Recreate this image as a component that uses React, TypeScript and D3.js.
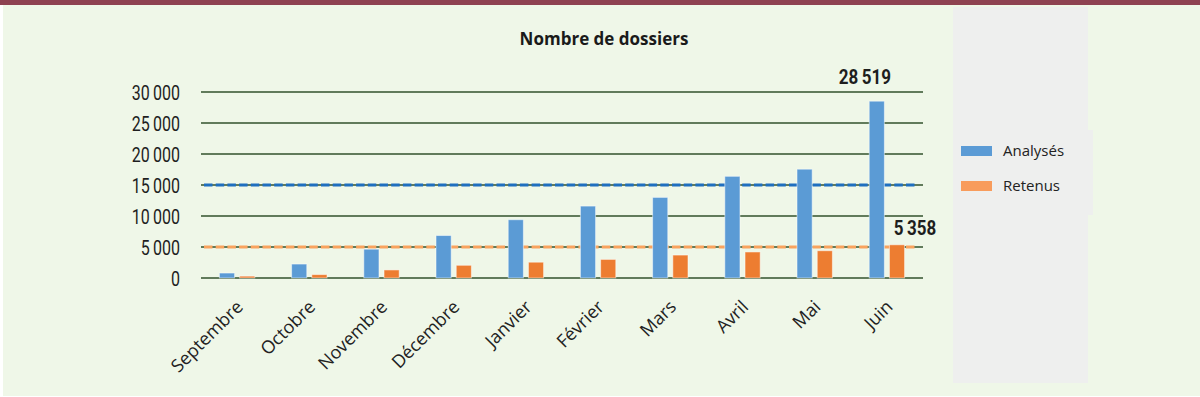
import * as d3 from "d3";

const months = ["Septembre", "Octobre", "Novembre", "Décembre", "Janvier", "Février", "Mars", "Avril", "Mai", "Juin"];
const analyses = [800, 2250, 4650, 6850, 9400, 11600, 13000, 16400, 17550, 28519];
const retenus = [300, 550, 1300, 2050, 2550, 3000, 3700, 4200, 4400, 5358];
const seriesNames = ["Analysés", "Retenus"];
const yTicks = [0, 5000, 10000, 15000, 20000, 25000, 30000];
// lignes de référence pointillées
const refLines = [15000, 5000];

const width = 1200;
const height = 397;
const margin = { top: 92, right: 277, bottom: 119, left: 201 };
const boundsWidth = width - margin.left - margin.right;
const boundsHeight = height - margin.top - margin.bottom;

const barColors = ["#5b9bd5", "#ed7d31"];
const legendColors = ["#5b9bd5", "#f89c5c"];
const refColors = ["#1f6fbf", "#f9a35e"];
const gridColor = "#617b5b";
const humanist = "'Open Sans', Lato, sans-serif";

const fr = d3.formatLocale({ decimal: ",", thousands: "\u2009", grouping: [3], currency: ["", " €"] });
const fmt = fr.format(",d");

// texte "condensé" : pas de police étroite installée, on écrase en largeur
function Narrow({ x, y, sx, anchor, size, weight, children }: any) {
  return (
    <g transform={`translate(${x},${y}) scale(${sx},1)`}>
      <text textAnchor={anchor} dy="0.35em" fontSize={size} fontWeight={weight} fill="#1e1e1e" fontFamily="Roboto, sans-serif">
        {children}
      </text>
    </g>
  );
}

export default function App() {
  const x0 = d3.scaleBand<string>().domain(months).range([0, boundsWidth]).padding(0);
  const groupWidth = x0.bandwidth() * 0.49;
  const x1 = d3.scaleBand<string>().domain(seriesNames).range([0, groupWidth]).paddingInner(0.25);
  const y = d3.scaleLinear().domain([0, 30000]).range([boundsHeight, 0]);
  const groupStart = (m: string) => (x0(m) ?? 0) + (x0.bandwidth() - groupWidth) / 2;

  const values = [analyses, retenus];
  const last = months[months.length - 1];

  return (
    <>
      <style>{`body{margin:0}`}</style>
      <svg width={width} height={height} style={{ display: "block", background: "#ffffff" }}>
        <rect x={3} y={0} width={width - 3} height={396} fill="#eff7e8" />
        <rect x={0} y={0} width={width} height={5} fill="#8e4251" />
        <rect x={953} y={7} width={135} height={376} fill="#eeefee" />
        <rect x={953} y={130} width={140} height={85} fill="#eeefee" />

        <text x={604} y={45} textAnchor="middle" fontSize={17} fontWeight={700} fill="#1a1a1a" fontFamily={humanist}>
          Nombre de dossiers
        </text>

        <g transform={`translate(${margin.left},${margin.top})`}>
          {yTicks.map((t) => (
            <g key={t} transform={`translate(0,${y(t)})`}>
              <line x1={0} x2={boundsWidth} stroke={gridColor} strokeWidth={2} />
              <Narrow x={-21} y={1} sx={0.8} anchor="end" size={20} weight={400}>
                {fmt(t)}
              </Narrow>
            </g>
          ))}

          {refLines.map((v, i) => (
            <line
              key={v}
              x1={3}
              x2={boundsWidth - 6}
              y1={y(v)}
              y2={y(v)}
              stroke={refColors[i]}
              strokeWidth={3}
              strokeDasharray="8.5 3.2"
            />
          ))}

          {months.map((m, i) => (
            <g key={m} transform={`translate(${groupStart(m)},0)`}>
              {seriesNames.map((s, k) => (
                <rect
                  key={s}
                  x={x1(s)}
                  y={y(values[k][i])}
                  width={x1.bandwidth()}
                  height={boundsHeight - y(values[k][i])}
                  fill={barColors[k]}
                  stroke="#ffffff"
                  strokeOpacity={0.5}
                  strokeWidth={1}
                />
              ))}
            </g>
          ))}

          <Narrow
            x={groupStart(last) + (x1("Analysés") ?? 0) + x1.bandwidth() / 2 - 12}
            y={y(analyses[analyses.length - 1]) - 24}
            sx={0.85}
            anchor="middle"
            size={20}
            weight={700}
          >
            {fmt(analyses[analyses.length - 1])}
          </Narrow>
          <Narrow
            x={groupStart(last) + (x1("Retenus") ?? 0) + x1.bandwidth() / 2 + 18}
            y={y(retenus[retenus.length - 1]) - 17}
            sx={0.85}
            anchor="middle"
            size={20}
            weight={700}
          >
            {fmt(retenus[retenus.length - 1])}
          </Narrow>

          {months.map((m) => {
            const cx = (x0(m) ?? 0) + x0.bandwidth() / 2 + 7;
            const cy = boundsHeight + 30;
            return (
              <text
                key={m}
                x={cx}
                y={cy}
                textAnchor="end"
                fontSize={18}
                fill="#222"
                fontFamily={humanist}
                transform={`rotate(-45,${cx},${cy})`}
              >
                {m}
              </text>
            );
          })}
        </g>

        {seriesNames.map((s, i) => (
          <g key={s} transform={`translate(961,${146 + i * 35})`}>
            <rect width={31} height={10} fill={legendColors[i]} />
            <text x={42} y={5} dy="0.35em" fontSize={15} fill="#222" fontFamily={humanist}>
              {s}
            </text>
          </g>
        ))}
      </svg>
    </>
  );
}
